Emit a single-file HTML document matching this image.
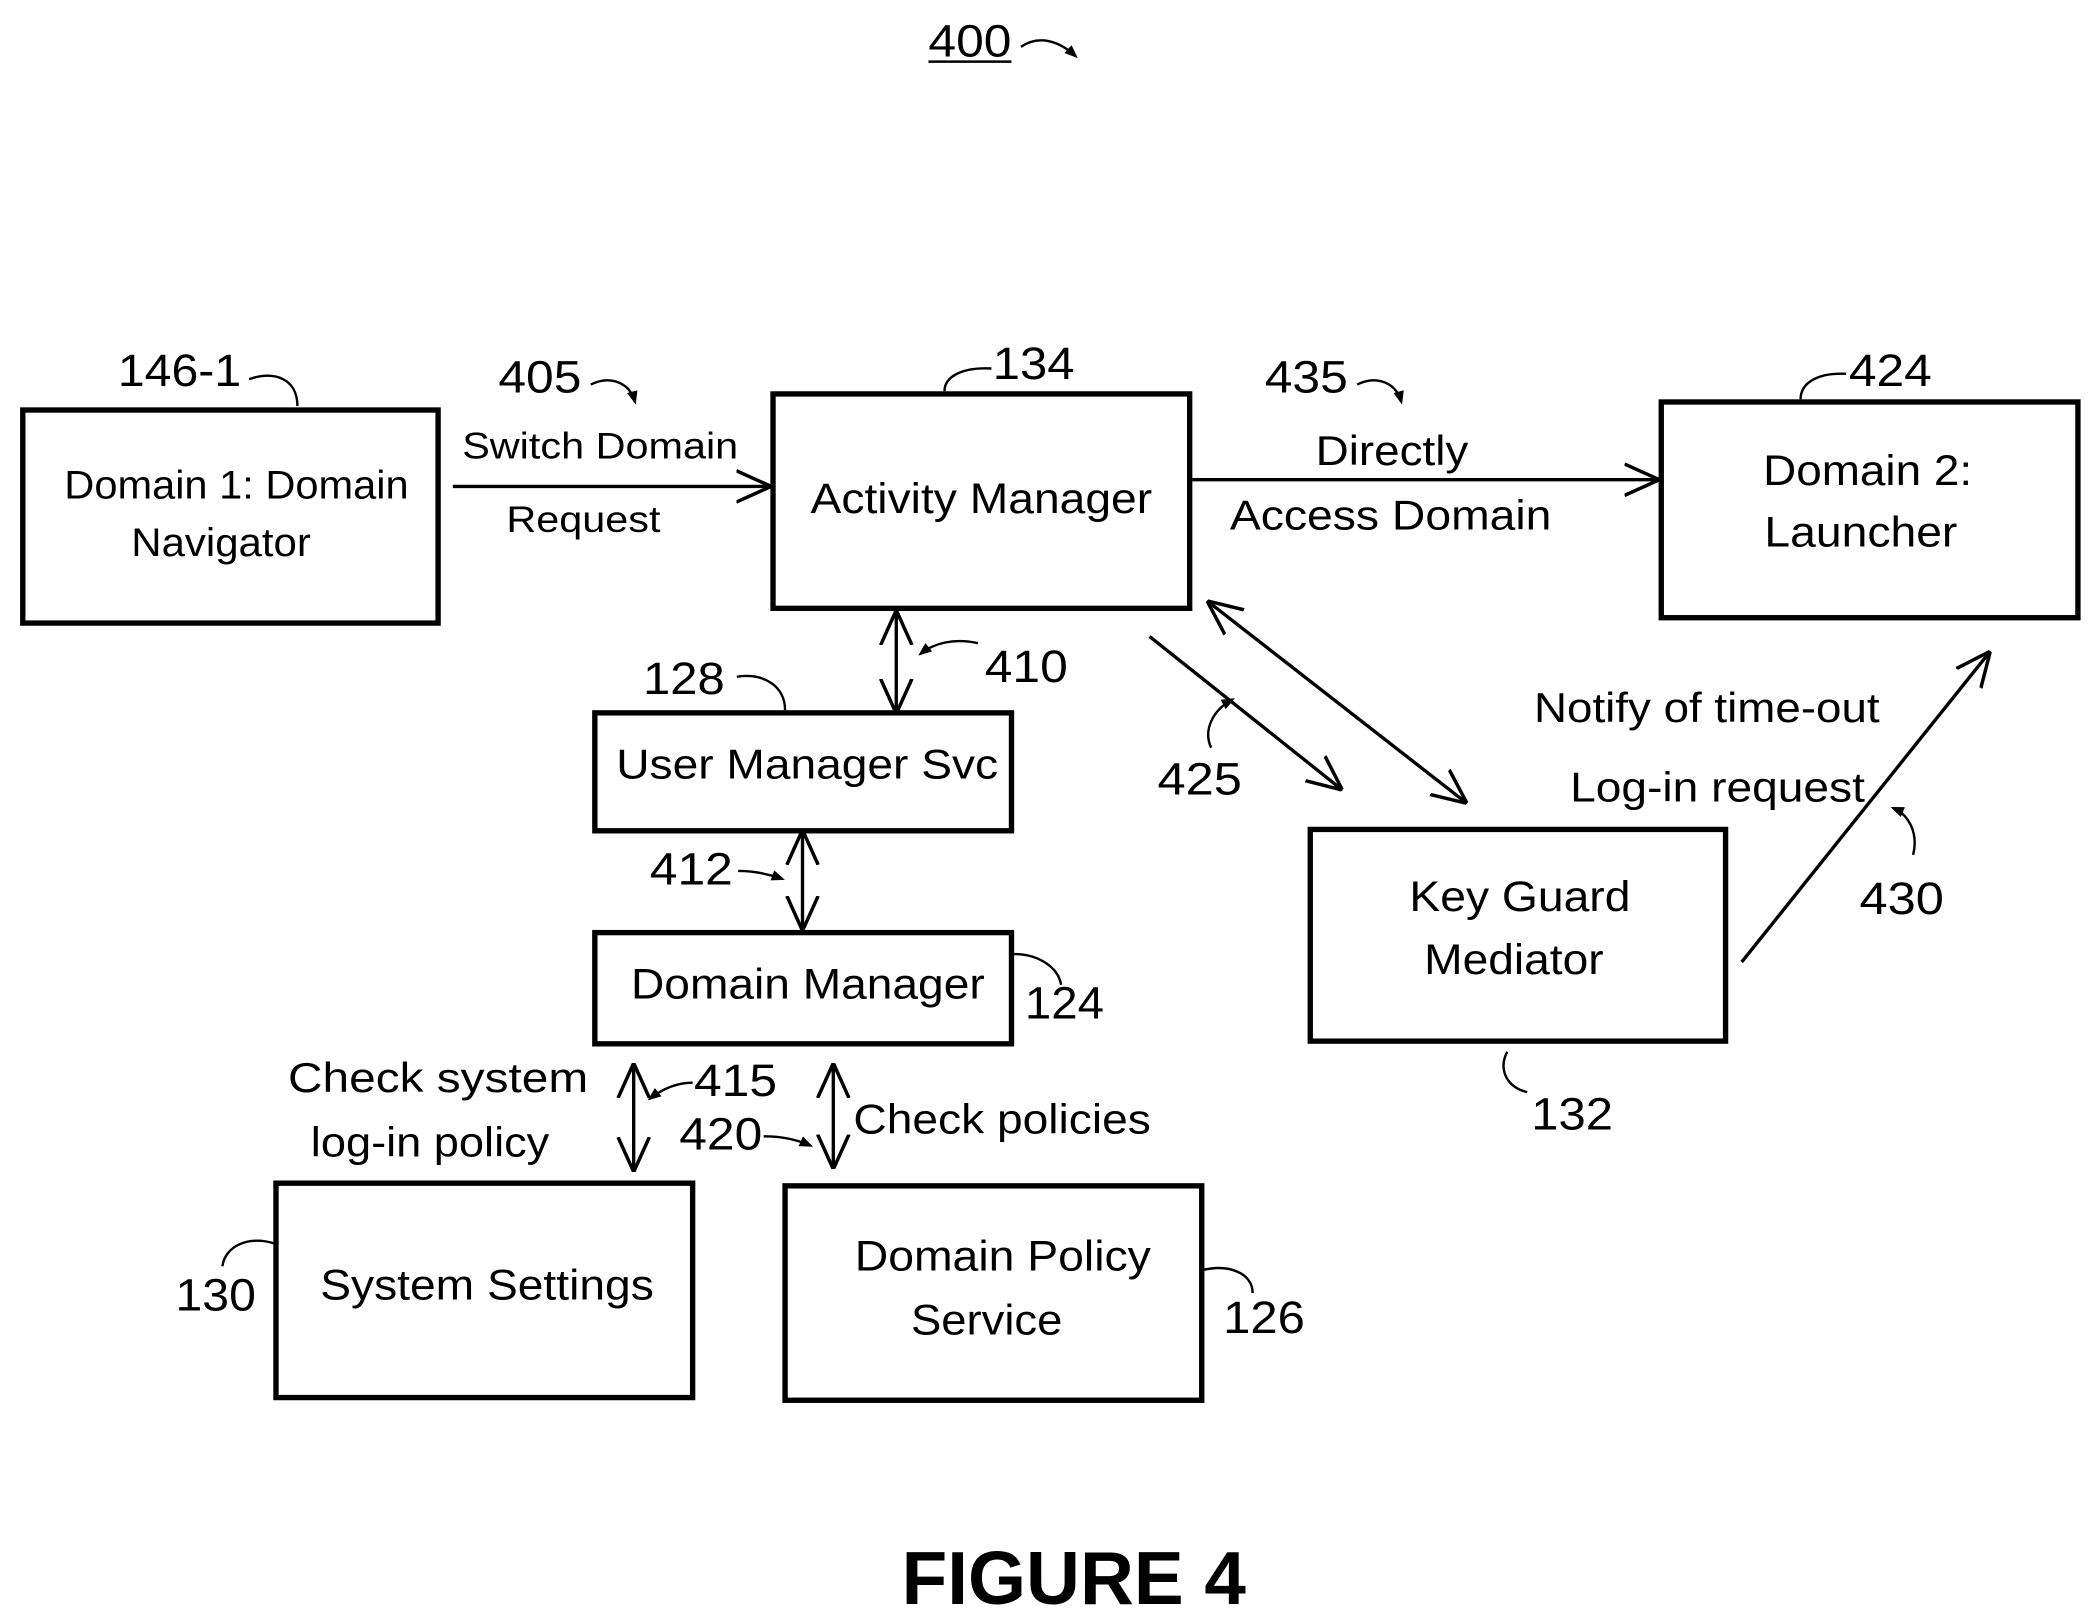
<!DOCTYPE html>
<html><head><meta charset="utf-8"><style>
html,body{margin:0;padding:0;background:#fff;}
svg{display:block;}
text{font-family:"Liberation Sans",Arial,sans-serif;fill:#000;}
.l{font-size:30px;}
.n{font-size:34px;}
</style></head><body>
<svg width="2094" height="1620" viewBox="0 0 1563 1209" preserveAspectRatio="none" xmlns="http://www.w3.org/2000/svg">
<defs>
<marker id="s" viewBox="0 0 10 10" refX="8" refY="5" markerWidth="10" markerHeight="10" orient="auto" markerUnits="userSpaceOnUse">
<path d="M0,1 L10,5 L0,9 Z" fill="#000"/></marker>
<marker id="b" viewBox="0 0 10 10" refX="9" refY="5" markerWidth="26" markerHeight="26" orient="auto-start-reverse" markerUnits="userSpaceOnUse">
<path d="M0,0.5 L10,5 L0,9.5" fill="none" stroke="#000" stroke-width="1"/></marker>
</defs>
<g fill="none" stroke="#000" stroke-width="4">
<rect x="17" y="306" width="310" height="159"/>
<rect x="577" y="294" width="311" height="160"/>
<rect x="1240" y="300" width="311" height="161"/>
<rect x="444" y="532" width="311" height="88"/>
<rect x="444" y="696" width="311" height="83"/>
<rect x="978" y="619" width="310" height="158"/>
<rect x="206" y="883" width="311" height="160"/>
<rect x="586" y="885" width="311" height="160"/>
</g>
<g fill="none" stroke="#000" stroke-width="2.5">
<line x1="338" y1="363" x2="573" y2="363" marker-end="url(#b)"/>
<line x1="890" y1="358" x2="1236" y2="358" marker-end="url(#b)"/>
<line x1="669" y1="458" x2="669" y2="530" marker-start="url(#b)" marker-end="url(#b)"/>
<line x1="599" y1="622" x2="599" y2="692" marker-start="url(#b)" marker-end="url(#b)"/>
<line x1="473" y1="796" x2="473" y2="872" marker-start="url(#b)" marker-end="url(#b)"/>
<line x1="622" y1="796" x2="622" y2="870" marker-start="url(#b)" marker-end="url(#b)"/>
<line x1="858" y1="475" x2="1000" y2="588" marker-end="url(#b)"/>
<line x1="903" y1="450" x2="1093" y2="598" marker-start="url(#b)" marker-end="url(#b)"/>
<line x1="1300" y1="718" x2="1484" y2="488" marker-end="url(#b)"/>
</g>
<g fill="none" stroke="#000" stroke-width="1.8">
<line x1="693" y1="46" x2="755" y2="46"/>
<path d="M762,35 C775,26 790,30 803,42" marker-end="url(#s)"/>
<path d="M186,283 C205,276 222,283 222,303"/>
<path d="M441,287 C455,280 470,285 474,300" marker-end="url(#s)"/>
<path d="M740,275 C720,274 705,280 705,292"/>
<path d="M1013,287 C1027,280 1042,285 1046,300" marker-end="url(#s)"/>
<path d="M1378,279 C1358,278 1344,285 1344,298"/>
<path d="M730,480 C712,476 697,480 687,488" marker-end="url(#s)"/>
<path d="M550,505 C570,502 586,512 586,530"/>
<path d="M551,650 C562,650 573,652 584,656" marker-end="url(#s)"/>
<path d="M757,712 C775,712 790,722 792,735"/>
<path d="M517,808 C505,808 494,813 485,820" marker-end="url(#s)"/>
<path d="M570,848 C582,848 594,850 605,855" marker-end="url(#s)"/>
<path d="M205,928 C185,922 168,930 166,945"/>
<path d="M897,948 C917,943 935,950 935,965"/>
<path d="M1125,785 C1118,798 1125,812 1140,815"/>
<path d="M904,558 C898,545 905,530 920,522" marker-end="url(#s)"/>
<path d="M1428,638 C1432,622 1425,608 1413,603" marker-end="url(#s)"/>
</g>
<g class="n">
<text x="693" y="42" textLength="62" lengthAdjust="spacingAndGlyphs">400</text>
<text x="88" y="288" textLength="92" lengthAdjust="spacingAndGlyphs">146-1</text>
<text x="372" y="293" textLength="62" lengthAdjust="spacingAndGlyphs">405</text>
<text x="741" y="283" textLength="61" lengthAdjust="spacingAndGlyphs">134</text>
<text x="944" y="293" textLength="62" lengthAdjust="spacingAndGlyphs">435</text>
<text x="1380" y="288" textLength="62" lengthAdjust="spacingAndGlyphs">424</text>
<text x="735" y="509" textLength="62" lengthAdjust="spacingAndGlyphs">410</text>
<text x="480" y="518" textLength="61" lengthAdjust="spacingAndGlyphs">128</text>
<text x="485" y="660" textLength="62" lengthAdjust="spacingAndGlyphs">412</text>
<text x="765" y="760" textLength="59" lengthAdjust="spacingAndGlyphs">124</text>
<text x="518" y="818" textLength="62" lengthAdjust="spacingAndGlyphs">415</text>
<text x="507" y="858" textLength="62" lengthAdjust="spacingAndGlyphs">420</text>
<text x="131" y="978" textLength="60" lengthAdjust="spacingAndGlyphs">130</text>
<text x="913" y="995" textLength="61" lengthAdjust="spacingAndGlyphs">126</text>
<text x="1143" y="843" textLength="61" lengthAdjust="spacingAndGlyphs">132</text>
<text x="864" y="593" textLength="63" lengthAdjust="spacingAndGlyphs">425</text>
<text x="1388" y="682" textLength="63" lengthAdjust="spacingAndGlyphs">430</text>
</g>
<g style="font-size:31px">
<text x="345" y="342" style="font-size:28px" textLength="206" lengthAdjust="spacingAndGlyphs">Switch Domain</text>
<text x="378" y="397" style="font-size:28px" textLength="115" lengthAdjust="spacingAndGlyphs">Request</text>
<text x="982" y="347" textLength="114" lengthAdjust="spacingAndGlyphs">Directly</text>
<text x="918" y="395" textLength="240" lengthAdjust="spacingAndGlyphs">Access Domain</text>
<text x="215" y="815" textLength="224" lengthAdjust="spacingAndGlyphs">Check  system</text>
<text x="232" y="863" textLength="178" lengthAdjust="spacingAndGlyphs">log-in policy</text>
<text x="637" y="846" textLength="222" lengthAdjust="spacingAndGlyphs">Check policies</text>
<text x="1145" y="539" textLength="258" lengthAdjust="spacingAndGlyphs">Notify of time-out</text>
<text x="1172" y="598" textLength="220" lengthAdjust="spacingAndGlyphs">Log-in request</text>
<text x="48" y="372" style="font-size:30px" textLength="257" lengthAdjust="spacingAndGlyphs">Domain 1: Domain</text>
<text x="98" y="415" style="font-size:30px" textLength="134" lengthAdjust="spacingAndGlyphs">Navigator</text>
<text x="605" y="383" style="font-size:32px" textLength="255" lengthAdjust="spacingAndGlyphs">Activity Manager</text>
<text x="1316" y="362" style="font-size:32px" textLength="156" lengthAdjust="spacingAndGlyphs">Domain 2:</text>
<text x="1317" y="408" style="font-size:32px" textLength="144" lengthAdjust="spacingAndGlyphs">Launcher</text>
<text x="460" y="581" textLength="285" lengthAdjust="spacingAndGlyphs">User Manager Svc</text>
<text x="471" y="745" style="font-size:32px" textLength="264" lengthAdjust="spacingAndGlyphs">Domain Manager</text>
<text x="1052" y="680" style="font-size:32px" textLength="165" lengthAdjust="spacingAndGlyphs">Key Guard</text>
<text x="1063" y="727" style="font-size:32px" textLength="134" lengthAdjust="spacingAndGlyphs">Mediator</text>
<text x="239" y="970" style="font-size:32px" textLength="249" lengthAdjust="spacingAndGlyphs">System Settings</text>
<text x="638" y="948" style="font-size:32px" textLength="221" lengthAdjust="spacingAndGlyphs">Domain Policy</text>
<text x="680" y="996" style="font-size:32px" textLength="113" lengthAdjust="spacingAndGlyphs">Service</text>
</g>
<text x="673" y="1197" style="font-size:56px;font-weight:bold" textLength="257" lengthAdjust="spacingAndGlyphs">FIGURE 4</text>
</svg>
</body></html>
